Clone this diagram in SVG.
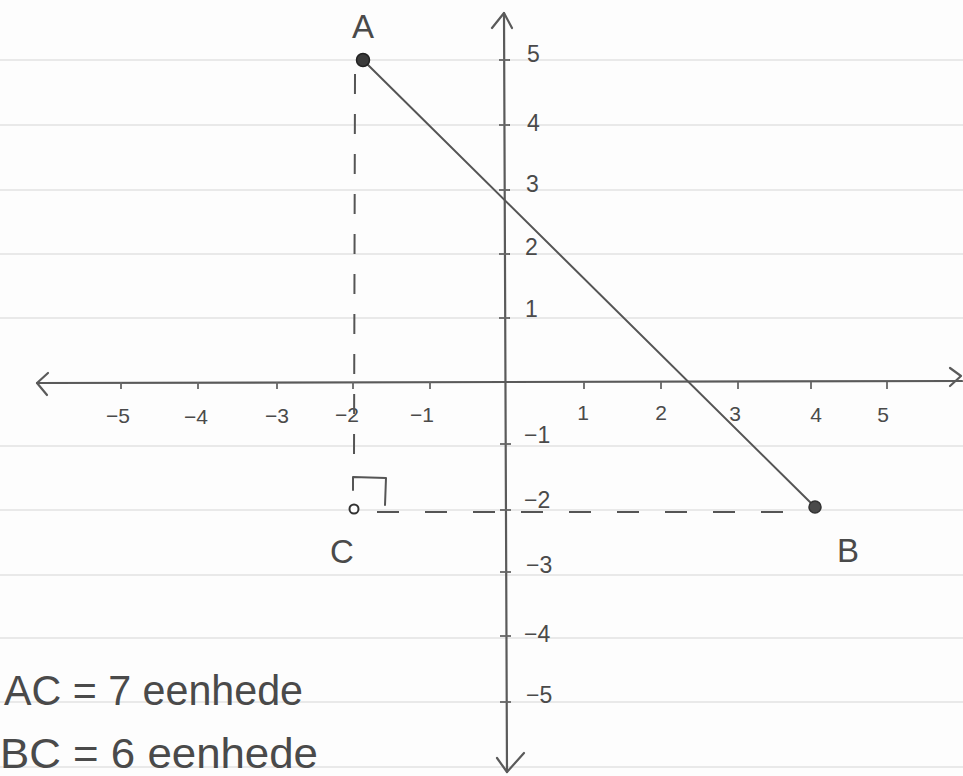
<svg xmlns="http://www.w3.org/2000/svg" width="963" height="776" viewBox="0 0 963 776">
<style>
.rule{stroke:#e2e2e2;stroke-width:1.6;fill:none}
.pen{stroke:#555;stroke-width:2;fill:none;stroke-linecap:round;stroke-linejoin:round}
.axis{stroke:#5a5a5a;stroke-width:2.2;fill:none;stroke-linecap:round;stroke-linejoin:round}
.tick{stroke:#666;stroke-width:1.8}
.dash{stroke:#555;stroke-width:2;fill:none;stroke-dasharray:20 20}
.lbl{font-family:"Liberation Sans",Arial,sans-serif;fill:#4a4a4a}
.ax{font-size:21px;text-anchor:middle}
.ay{font-size:23px}
.pt{font-size:33px;text-anchor:middle}
.note{font-size:42px}
</style>
<rect width="963" height="776" fill="#fdfdfd"/>
<g id="paper">
<line class="rule" x1="0" y1="60" x2="963" y2="60"/>
<line class="rule" x1="0" y1="125" x2="963" y2="125"/>
<line class="rule" x1="0" y1="190" x2="963" y2="190"/>
<line class="rule" x1="0" y1="254" x2="963" y2="254"/>
<line class="rule" x1="0" y1="318" x2="963" y2="318"/>
<line class="rule" x1="0" y1="446" x2="963" y2="446"/>
<line class="rule" x1="0" y1="510" x2="963" y2="510"/>
<line class="rule" x1="0" y1="575" x2="963" y2="575"/>
<line class="rule" x1="0" y1="638" x2="963" y2="638"/>
<line class="rule" x1="0" y1="702" x2="963" y2="702"/>
<line class="rule" x1="0" y1="767" x2="963" y2="767"/>
</g>
<g id="axes">
<line class="axis" x1="37" y1="383" x2="962" y2="381"/>
<polyline class="axis" points="48,373 37,383 47,395"/>
<polyline class="axis" points="950,368 961,376 950,386"/>
<line class="axis" x1="504" y1="13" x2="507" y2="772"/>
<polyline class="axis" points="492,28 504,13 512,28"/>
<polyline class="axis" points="497,758 507,772 524,753"/>
<g id="xticks">
<line class="tick" x1="121" y1="382" x2="121" y2="389"/>
<line class="tick" x1="198" y1="382" x2="198" y2="389"/>
<line class="tick" x1="277" y1="382" x2="277" y2="389"/>
<line class="tick" x1="353" y1="382" x2="353" y2="389"/>
<line class="tick" x1="430" y1="382" x2="430" y2="389"/>
<line class="tick" x1="584" y1="382" x2="584" y2="389"/>
<line class="tick" x1="661" y1="382" x2="661" y2="389"/>
<line class="tick" x1="738" y1="382" x2="738" y2="389"/>
<line class="tick" x1="811" y1="382" x2="811" y2="389"/>
<line class="tick" x1="887" y1="382" x2="887" y2="389"/>
</g>
<g id="yticks">
<line class="tick" x1="499" y1="60" x2="510" y2="60"/>
<line class="tick" x1="499" y1="125" x2="510" y2="125"/>
<line class="tick" x1="499" y1="190" x2="510" y2="190"/>
<line class="tick" x1="499" y1="254" x2="510" y2="254"/>
<line class="tick" x1="499" y1="318" x2="510" y2="318"/>
<line class="tick" x1="500" y1="444" x2="511" y2="444"/>
<line class="tick" x1="500" y1="510" x2="511" y2="510"/>
<line class="tick" x1="500" y1="572" x2="511" y2="572"/>
<line class="tick" x1="500" y1="636" x2="511" y2="636"/>
<line class="tick" x1="500" y1="702" x2="511" y2="702"/>
</g>
<g id="xlabels" class="lbl ax">
<text x="118" y="423">−5</text>
<text x="196" y="424">−4</text>
<text x="277" y="423">−3</text>
<text x="347" y="422">−2</text>
<text x="422" y="422">−1</text>
<text x="583" y="420">1</text>
<text x="661" y="420">2</text>
<text x="735" y="421">3</text>
<text x="816" y="422">4</text>
<text x="883" y="422">5</text>
</g>
<g id="ylabels" class="lbl ay">
<text x="527" y="62">5</text>
<text x="527" y="131">4</text>
<text x="526" y="192">3</text>
<text x="525" y="255">2</text>
<text x="525" y="317">1</text>
<text x="524" y="443">−1</text>
<text x="524" y="508">−2</text>
<text x="526" y="573">−3</text>
<text x="524" y="642">−4</text>
<text x="526" y="703">−5</text>
</g>
</g>
<g id="connectors">
<line id="AB" class="pen" x1="363" y1="60" x2="815" y2="507"/>
<line id="AC" class="dash" x1="355" y1="74" x2="354" y2="460"/>
<line id="CB" class="dash" x1="377" y1="512" x2="808" y2="512" style="stroke-dasharray:22 26"/>
<polyline id="rightangle" class="pen" points="353,490 353,477 386,478 385,505"/>
</g>
<g id="A">
<circle cx="363" cy="60" r="6.5" fill="#3a3a3a" stroke="#222" stroke-width="1.5"/>
<text class="lbl pt" x="363" y="38">A</text>
</g>
<g id="B">
<circle cx="815" cy="507" r="6" fill="#4a4a4a" stroke="#333" stroke-width="1.5"/>
<text class="lbl pt" x="848" y="562">B</text>
</g>
<g id="C">
<circle cx="354" cy="509" r="4.5" fill="#fff" stroke="#333" stroke-width="2"/>
<text class="lbl pt" x="342" y="563">C</text>
</g>
<g id="notes" class="lbl note">
<text x="4" y="705" textLength="299" lengthAdjust="spacingAndGlyphs">AC = 7 eenhede</text>
<text x="0" y="768" textLength="318" lengthAdjust="spacingAndGlyphs">BC = 6 eenhede</text>
</g>
</svg>
